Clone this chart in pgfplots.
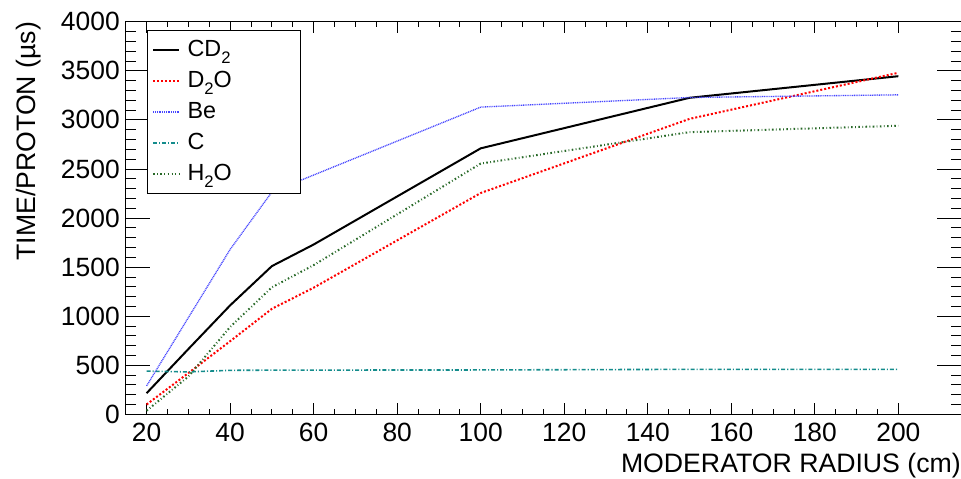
\documentclass[border=0pt]{standalone}
\usepackage{fontspec}
\setmainfont{Liberation Sans}
\usepackage{pgfplots}
\pgfplotsset{compat=1.18}
\definecolor{d2ocol}{RGB}{255,0,0}
\definecolor{becol}{RGB}{70,70,255}
\definecolor{ccol}{RGB}{20,140,140}
\definecolor{h2ocol}{RGB}{40,105,40}
\newcommand{\sub}[1]{\raisebox{-0.32em}{\fontsize{12.5}{13}\selectfont #1}}
\begin{document}
\begin{tikzpicture}
\begin{axis}[
  scale only axis, width=626.5pt, height=294.45pt,
  xmin=15, xmax=215, ymin=0, ymax=4000,
  xtick={20,40,...,200}, ytick={0,500,...,4000},
  minor x tick num=3, minor y tick num=4,
  tick align=inside,
  axis line style={line width=0.75pt},
  every tick/.style={black, line width=0.6pt},
  xtick style={/pgfplots/major tick length=8.25pt, /pgfplots/minor tick length=4.1pt},
  ytick style={/pgfplots/major tick length=18pt, /pgfplots/minor tick length=7.5pt},
  /pgf/number format/assume math mode=true,
  /pgf/number format/1000 sep={},
  ticklabel style={font=\fontsize{19.8}{22}\selectfont},
  xticklabel style={inner sep=0pt, anchor=north, yshift=-6.5pt},
  yticklabel style={inner sep=0pt, anchor=east, xshift=-4.3pt},
  xlabel={MODERATOR RADIUS (cm)},
  ylabel={TIME/PROTON (µs)},
  xlabel style={at={(rel axis cs:1,-0.1471)}, anchor=base east, inner sep=0pt, font=\fontsize{20}{24}\selectfont},
  ylabel style={at={(rel axis cs:-0.1085,1)}, anchor=base east, inner sep=0pt, font=\fontsize{20}{24}\selectfont},
  legend style={at={(rel axis cs:0.02586,0.97894)}, anchor=north west, draw=black, line width=0.75pt, fill=white,
    font=\fontsize{17.5}{20}\selectfont, inner xsep=3.3pt, inner ysep=6.9pt, column sep=5.5pt, row sep=7.75pt,
    nodes={inner sep=0pt, text height=12.5pt, text depth=3pt}},
  legend cell align=left,
  legend image code/.code={\draw[#1] (0pt,0pt) -- (19.5pt,0pt);},
]
\addplot[black, line width=1.5pt] coordinates {
(20,215) (30,665) (40,1110) (50,1510) (60,1730) (100,2710) (150,3225) (200,3445)};
\addlegendentry{\makebox[81.6pt][l]{CD\sub{2}}}
\addplot[d2ocol, line width=1.5pt, dash pattern=on 1.5pt off 1.5pt] coordinates {
(20,100) (30,420) (40,745) (50,1075) (60,1290) (100,2255) (150,3010) (200,3480)};
\addlegendentry{D\sub{2}O}
\addplot[becol, line width=1pt, dash pattern=on 0.75pt off 0.6pt] coordinates {
(20,290) (30,985) (40,1680) (50,2265) (100,3130) (150,3228) (200,3255)};
\addlegendentry{Be}
\addplot[ccol, line width=1.2pt, dash pattern=on 3pt off 1.5pt on 0.8pt off 1.5pt] coordinates {
(20,440) (30,432) (40,448) (50,450) (100,452) (150,458) (200,458)};
\addlegendentry{C}
\addplot[h2ocol, line width=1.5pt, dash pattern=on 1.2pt off 1.8pt on 0.6pt off 1.8pt] coordinates {
(20,37) (30,385) (40,890) (50,1294) (60,1520) (100,2555) (150,2875) (200,2940)};
\addlegendentry{H\sub{2}O}
\end{axis}
\pgfresetboundingbox
\path[use as bounding box] ([shift={(-94.3pt,-47.8pt)}]current axis.south west) rectangle ([shift={(0pt,16.3pt)}]current axis.north east);
\end{tikzpicture}
\end{document}
